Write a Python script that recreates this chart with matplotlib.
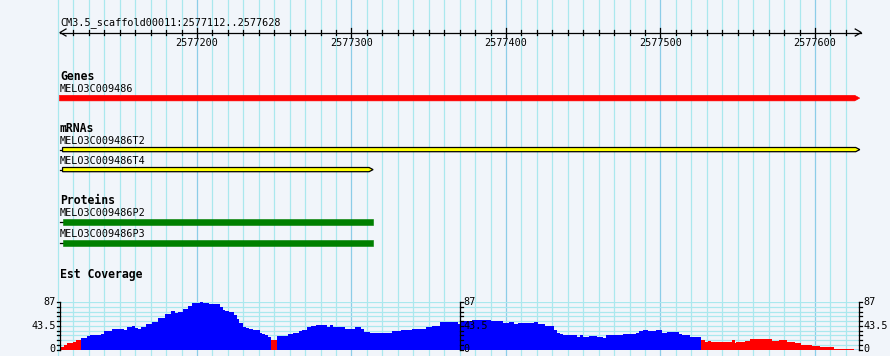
import matplotlib
matplotlib.use("Agg")
import matplotlib.pyplot as plt
import numpy as np
from matplotlib.patches import Polygon

# region shown
ref_name = "CM3.5_scaffold00011"
reg_start = 2577112
reg_end = 2577628
ruler_labels = [2577200, 2577300, 2577400, 2577500, 2577600]

# features: (name, start, end)
genes = [("MELO3C009486", 2577111, 2577629)]
mrnas = [("MELO3C009486T2", 2577113, 2577629),
         ("MELO3C009486T4", 2577113, 2577314)]
proteins = [("MELO3C009486P2", 2577113, 2577314),
            ("MELO3C009486P3", 2577113, 2577314)]

# est coverage, step segments (offset from reg_start in bp, value)
cov_pos = [0, 2, 4, 8, 10, 13, 17, 19, 26, 28, 33, 41, 43, 46, 48, 50, 52, 55, 59, 63,
           67, 71, 74, 76, 79, 82, 85, 90, 92, 94, 96, 100, 103, 105, 106, 109, 112, 114,
           115, 118, 120, 122, 124, 129, 130, 132, 134, 136, 140, 147, 150, 154, 156, 159,
           162, 165, 172, 174, 176, 184, 190, 194, 196, 200, 204, 214, 220, 227, 236, 240,
           245, 257, 259, 266, 278, 286, 290, 293, 296, 306, 309, 313, 319, 321, 323, 325,
           334, 336, 338, 342, 347, 351, 353, 364, 372, 374, 377, 380, 385, 389, 392, 400,
           402, 407, 414, 417, 419, 421, 434, 436, 437, 443, 446, 460, 465, 470, 475, 479,
           486, 491, 500, 513]
cov_vals = [5, 8, 11, 13, 18, 21, 24, 26, 28, 33, 37, 35, 41, 43, 39, 37, 42, 46, 51, 57,
            65, 70, 66, 69, 74, 80, 86, 87, 85, 86, 84, 83, 78, 72, 70, 68, 63, 55,
            49, 42, 40, 37, 36, 30, 28, 27, 22, 18, 25, 28, 31, 33, 36, 41,
            43, 44, 42, 45, 41, 38, 41, 37, 32, 30, 31, 33, 36, 38, 41, 43,
            51, 47, 52, 54, 52, 49, 50, 46, 48, 51, 47, 43, 36, 30, 28, 26,
            23, 26, 23, 25, 22, 21, 26, 29, 30, 34, 35, 33, 35, 30, 32, 28,
            26, 23, 18, 13, 15, 13, 17, 12, 14, 15, 19, 16, 18, 14, 12, 9,
            6, 4, 1.5]
cov_max = 87
low_cov = 20

W, H = 890, 356
ppb = 1.545  # pixels per bp
def px(n):
    return n / ppb

bg = "#f1f5fa"
grid_minor = "#aae8ee"
grid_major = "#8ccde8"

fig = plt.figure(figsize=(W / 100, H / 100), dpi=100, facecolor=bg)
ax = fig.add_axes([0, 0, 1, 1])
ax.set_facecolor(bg)
xl = (reg_start - px(61), reg_start + px(W - 61))
ax.set_xlim(*xl)
ax.set_ylim(H, 0)
ax.axis("off")

mono = "DejaVu Sans Mono"
fs = 7.3
fsb = 8.3

# vertical grid every 10 bp
for g in range(2577110, 2577621, 10):
    c = grid_major if g % 100 == 0 else grid_minor
    ax.axvline(g, color=c, lw=0.9, zorder=0)

# ruler
ax.text(reg_start - px(1), 25, f"{ref_name}:{reg_start}..{reg_end}", family=mono,
        fontsize=fs, va="baseline", ha="left")
ry = 32.5
ax.plot([reg_start - px(1), reg_end + px(3)], [ry, ry], color="black", lw=0.9)
ax.plot([reg_start + px(5), reg_start - px(1), reg_start + px(5)], [ry - 3.5, ry, ry + 3.5],
        color="black", lw=0.9)
ax.plot([reg_end - px(3), reg_end + px(3), reg_end - px(3)], [ry - 3.5, ry, ry + 3.5],
        color="black", lw=0.9)
for t in range(2577120, 2577621, 10):
    d = 4.3 if t % 100 == 0 else 2.6
    ax.plot([t, t], [ry - d, ry + d], color="black", lw=0.9)
for t in ruler_labels:
    ax.text(t, 46, str(t), family=mono, fontsize=fs, ha="center", va="baseline")


def feature(name, s, e, ytop, h, color, edge=None, tip=0, stub=False):
    ax.text(reg_start - px(1), ytop - 3.3, name, family=mono, fontsize=fs,
            ha="left", va="baseline")
    ym = ytop + h / 2
    if stub:
        ax.plot([s - px(3), s], [ym, ym], color="black", lw=0.9, zorder=3)
    t = px(tip)
    pts = [(s, ytop), (e - t, ytop), (e, ym), (e - t, ytop + h), (s, ytop + h)]
    ax.add_patch(Polygon(pts, closed=True, facecolor=color,
                         edgecolor=edge if edge else color,
                         lw=0.9 if edge else 0.4, zorder=3))


# Genes
ax.text(reg_start - px(1), 80, "Genes", family=mono, fontsize=fsb, weight="bold",
        va="baseline")
for name, s, e in genes:
    feature(name, s, e, 95.3, 5.6, "#ff0000", tip=5)

# mRNAs
ax.text(reg_start - px(1), 132, "mRNAs", family=mono, fontsize=fsb, weight="bold",
        va="baseline")
for i, (name, s, e) in enumerate(mrnas):
    feature(name, s, e, 147.5 + 20 * i, 4.2, "#ffff00", edge="black", tip=4, stub=True)

# Proteins
ax.text(reg_start - px(1), 204, "Proteins", family=mono, fontsize=fsb, weight="bold",
        va="baseline")
for i, (name, s, e) in enumerate(proteins):
    feature(name, s, e, 219.2 + 21 * i, 5.6, "#008000", stub=True)

# Est coverage
ax.text(reg_start - px(1), 278, "Est Coverage", family=mono, fontsize=fsb, weight="bold",
        va="baseline")

cax = fig.add_axes([0, (H - 349.5) / H, 1, 47.5 / H])
cax.patch.set_alpha(0)
cax.set_xlim(*xl)
cax.set_ylim(0, cov_max)
cax.axis("off")

ticks = np.linspace(0, cov_max, 11)
for v in ticks[1:]:
    cax.plot([reg_start - px(1), reg_end + px(1)], [v, v], color=grid_minor, lw=0.9, zorder=0)
cax.plot([reg_start - px(1), reg_end + px(1)], [0, 0], color="#9fd4ee", lw=1.2, zorder=0)

left = [reg_start + p for p in cov_pos[:-1]]
widths = np.diff(cov_pos)
colors = ["#ff0000" if v < low_cov else "#0000ff" for v in cov_vals]
cax.bar(left, cov_vals, width=widths, align="edge", color=colors, lw=0, zorder=2)

# y scales: left, middle, right
axes_x = [(reg_start - px(1), -1), ((reg_start + reg_end) / 2, 1), (reg_end + px(1), 1)]
for xa, side in axes_x:
    cax.plot([xa, xa], [0, cov_max], color="black", lw=0.9, zorder=4, clip_on=False)
    for v in ticks:
        cax.plot([xa, xa + side * px(3)], [v, v], color="black", lw=0.9, zorder=4,
                 clip_on=False)
    for v, lab in [(cov_max, "87"), (cov_max / 2, "43.5"), (0, "0")]:
        cax.text(xa + side * px(4), v, lab, family=mono, fontsize=fs,
                 ha="right" if side < 0 else "left", va="center", zorder=5, clip_on=False)

fig.savefig("out.png", dpi=100, facecolor=bg)
